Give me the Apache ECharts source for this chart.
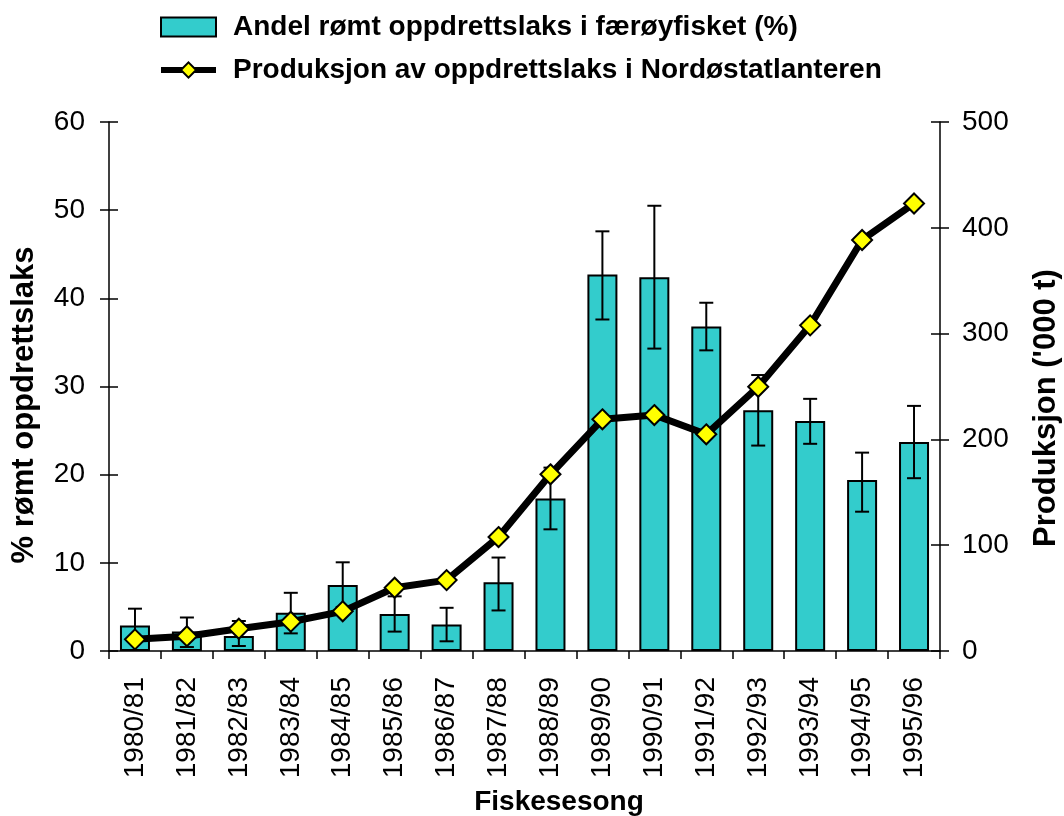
<!DOCTYPE html>
<html>
<head>
<meta charset="utf-8">
<script src="https://cdn.jsdelivr.net/npm/echarts@6/dist/echarts.min.js"></script>
<style>
  html, body { margin: 0; padding: 0; background: #fff; }
  #chart { width: 1064px; height: 816px; }
</style>
</head>
<body>
<div id="chart"></div>
<script>
// sesonger
var seasons = ['1980/81', '1981/82', '1982/83', '1983/84', '1984/85', '1985/86', '1986/87', '1987/88',
  '1988/89', '1989/90', '1990/91', '1991/92', '1992/93', '1993/94', '1994/95', '1995/96'];
// andel rømt oppdrettslaks (%)
var share = [2.9, 2.2, 1.7, 4.35, 7.5, 4.2, 3.0, 7.8, 17.3, 42.7, 42.4, 36.8, 27.3, 26.1, 19.4, 23.7];
var shareLow = [1.0, 0.45, 0.57, 2.0, 5.0, 2.2, 1.1, 4.6, 13.8, 37.6, 34.3, 34.1, 23.3, 23.5, 15.8, 19.6];
var shareHigh = [4.8, 3.8, 3.4, 6.6, 10.06, 6.2, 4.9, 10.6, 20.8, 47.6, 50.5, 39.5, 31.3, 28.6, 22.5, 27.8];
// produksjon ('000 t)
var production = [11, 14, 21, 27.7, 37.5, 59.8, 67, 107.7, 167, 219, 223, 204.8, 249.8, 307.8, 388.5, 423];
var leftTicks = [0, 60, 10];
var rightTicks = [0, 500, 100];

var FONT = '"Liberation Sans", Arial, sans-serif';

var errData = seasons.map(function(s, i) { return [i, shareLow[i], shareHigh[i]]; });

var chart = echarts.init(document.getElementById('chart'));

//akse med kryssende tikker: en synlig + en usynlig med tikker innover
function tickAxis(pos, idx, inside, showLabel) {
  var t = idx === 0 ? leftTicks : rightTicks;
  return {
    type: 'value', position: pos, min: t[0], max: t[1], interval: t[2],
    splitLine: { show: false },
    axisLine: { show: showLabel, lineStyle: { color: '#000', width: 1.5 } },
    axisTick: { show: true, inside: inside, length: 9, lineStyle: { color: '#000', width: 1.5 } },
    axisLabel: {
      show: showLabel, color: '#000', fontFamily: FONT, fontSize: 28,
      margin: pos === 'left' ? 24 : 22
    }
  };
}

var option = {
  animation: false,
  backgroundColor: '#fff',
  grid: { left: 109, right: 124, top: 122, bottom: 165 },
  legend: {
    orient: 'vertical',
    left: 158, top: 13, padding: 0,
    itemWidth: 55, itemHeight: 19, itemGap: 15,
    textStyle: { fontFamily: FONT, fontSize: 28, fontWeight: 'bold', color: '#000', padding: [0, 0, 0, 12] },
    data: [
      { name: 'Andel rømt oppdrettslaks i færøyfisket (%)', icon: 'rect' },
      { name: 'Produksjon av oppdrettslaks i Nordøstatlanteren', lineStyle: { width: 6, color: '#000' },
        itemStyle: { borderWidth: 2, borderColor: '#000' } }
    ]
  },
  xAxis: {
    type: 'category',
    data: seasons,
    axisLine: { lineStyle: { color: '#000', width: 1.5 } },
    axisTick: { show: true, length: 8, lineStyle: { color: '#000', width: 1.5 } },
    axisLabel: { rotate: 90, color: '#000', fontFamily: FONT, fontSize: 28, margin: 26 }
  },
  yAxis: [
    tickAxis('left', 0, false, true),
    tickAxis('right', 1, false, true),
    tickAxis('left', 0, true, false),
    tickAxis('right', 1, true, false)
  ],
  graphic: [
    { type: 'text', x: 24, y: 405, rotation: Math.PI / 2,
      style: { text: '% rømt oppdrettslaks', fill: '#000', font: 'bold 31px ' + FONT, align: 'center', verticalAlign: 'middle' } },
    { type: 'text', x: 1046, y: 408, rotation: Math.PI / 2,
      style: { text: "Produksjon ('000 t)", fill: '#000', font: 'bold 31px ' + FONT, align: 'center', verticalAlign: 'middle' } },
    { type: 'text', x: 559, y: 802,
      style: { text: 'Fiskesesong', fill: '#000', font: 'bold 28px ' + FONT, align: 'center', verticalAlign: 'middle' } }
  ],
  series: [
    {
      name: 'Andel rømt oppdrettslaks i færøyfisket (%)',
      type: 'bar',
      yAxisIndex: 0,
      barWidth: 30,
      data: share,
      itemStyle: { color: '#33CCCC', borderColor: '#000', borderWidth: 2 },
      z: 2
    },
    {
      name: 'feil',
      type: 'custom',
      yAxisIndex: 0,
      data: errData,
      z: 3,
      renderItem: function(params, api) {
        var x = api.value(0);
        var lo = api.coord([x, api.value(1)]);
        var hi = api.coord([x, api.value(2)]);
        var w = 7;
        var st = { stroke: '#000', lineWidth: 2 };
        return {
          type: 'group',
          children: [
            { type: 'line', shape: { x1: lo[0], y1: lo[1], x2: hi[0], y2: hi[1] }, style: st },
            { type: 'line', shape: { x1: hi[0] - w, y1: hi[1], x2: hi[0] + w, y2: hi[1] }, style: st },
            { type: 'line', shape: { x1: lo[0] - w, y1: lo[1], x2: lo[0] + w, y2: lo[1] }, style: st }
          ]
        };
      }
    },
    {
      name: 'Produksjon av oppdrettslaks i Nordøstatlanteren',
      type: 'line',
      yAxisIndex: 1,
      data: production,
      symbol: 'diamond',
      symbolSize: 20,
      lineStyle: { color: '#000', width: 7 },
      itemStyle: { color: '#FFFF00', borderColor: '#000', borderWidth: 2 },
      z: 5
    }
  ]
};

chart.setOption(option);
window.onresize = chart.resize;
</script>
</body>
</html>
